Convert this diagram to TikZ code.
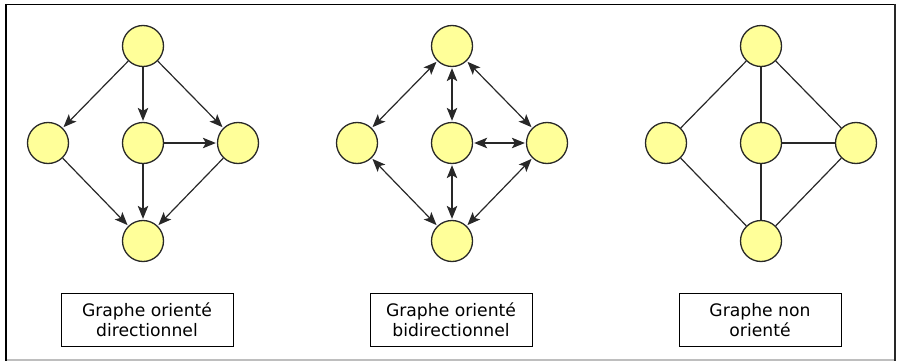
\documentclass[tikz,border=0pt]{standalone}
\usepackage{fontspec}
\setmainfont{DejaVu Sans}
\usetikzlibrary{arrows.meta}
\definecolor{nodefill}{RGB}{255,255,153}
\definecolor{edgecol}{RGB}{40,40,40}
\definecolor{framegray}{RGB}{190,190,190}
\begin{document}
\begin{tikzpicture}[x=1pt,y=-1pt,
  vertex/.style={circle,draw=edgecol,line width=1.3pt,fill=nodefill,minimum size=41pt,inner sep=0pt},
  edge/.style={draw=edgecol,line width=1.2pt},
  tip/.tip={Stealth[length=13pt,width=10.5pt,inset=3pt]},
  arr/.style={edge,-tip,shorten >=1pt},
  barr/.style={edge,tip-tip,shorten >=1pt,shorten <=1pt},
  labelbox/.style={draw=black,line width=1pt,minimum height=53pt,inner sep=0pt,align=center,font=\fontsize{17.2}{20}\selectfont}]
\useasboundingbox (0,0) rectangle (897,361);
% frame
\draw[black,line width=1.5pt] (5,4.5) -- (895.5,4.5);
\draw[black,line width=2pt] (5.8,4) -- (5.8,361);
\draw[edgecol,line width=1.5pt] (894.8,4) -- (894.8,361);
\draw[framegray,line width=1.5pt] (6.8,359.8) -- (894,359.8);

% graph 1
\node[vertex] (at) at (143,46) {};
\node[vertex] (al) at (48,143) {};
\node[vertex] (am) at (143,143) {};
\node[vertex] (ar) at (238,143) {};
\node[vertex] (ab) at (143,241) {};
\draw[arr] (at) -- (al);
\draw[arr] (at) -- (am);
\draw[arr] (at) -- (ar);
\draw[arr] (am) -- (ar);
\draw[arr] (al) -- (ab);
\draw[arr] (am) -- (ab);
\draw[arr] (ar) -- (ab);

% graph 2
\node[vertex] (bt) at (452,46) {};
\node[vertex] (bl) at (357,143) {};
\node[vertex] (bm) at (452,143) {};
\node[vertex] (br) at (547,143) {};
\node[vertex] (bb) at (452,241) {};
\draw[barr] (bt) -- (bl);
\draw[barr] (bt) -- (bm);
\draw[barr] (bt) -- (br);
\draw[barr] (bm) -- (br);
\draw[barr] (bl) -- (bb);
\draw[barr] (bm) -- (bb);
\draw[barr] (br) -- (bb);

% graph 3
\node[vertex] (ct) at (761,46) {};
\node[vertex] (cl) at (666,143) {};
\node[vertex] (cm) at (761,143) {};
\node[vertex] (cr) at (856,143) {};
\node[vertex] (cb) at (761,241) {};
\draw[edge] (ct) -- (cl);
\draw[edge] (ct) -- (cm);
\draw[edge] (ct) -- (cr);
\draw[edge] (cm) -- (cr);
\draw[edge] (cl) -- (cb);
\draw[edge] (cm) -- (cb);
\draw[edge] (cr) -- (cb);

% labels
\node[labelbox,minimum width=172pt] (la) at (147,320) {Graphe orienté\\directionnel};
\node[labelbox,minimum width=162pt] (lb) at (451,320) {Graphe orienté\\bidirectionnel};
\node[labelbox,minimum width=162pt] (lc) at (760,320) {Graphe non\\orienté};
\end{tikzpicture}
\end{document}
